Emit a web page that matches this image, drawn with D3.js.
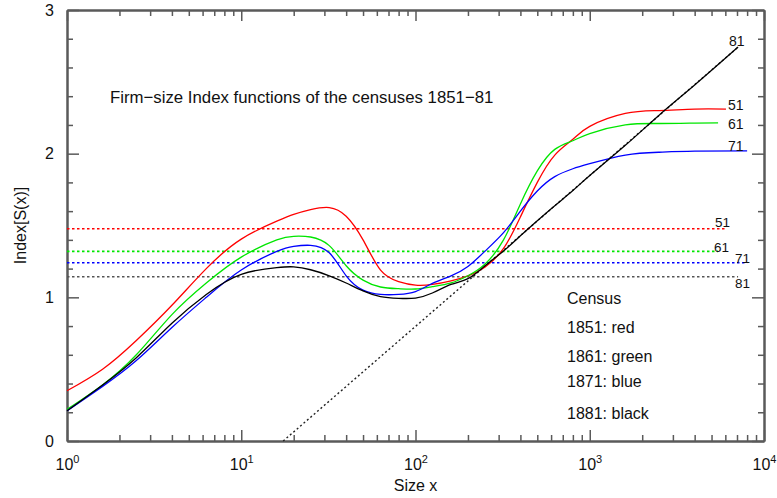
<!DOCTYPE html>
<html>
<head>
<meta charset="utf-8">
<script src="https://cdn.jsdelivr.net/npm/d3@7"></script>
<style>
  html, body { margin: 0; padding: 0; background: #fff; }
  svg { display: block; font-family: "Liberation Sans", Arial, sans-serif; }
</style>
</head>
<body>
<svg id="chart" width="777" height="498"></svg>
<script>
// Firm sizes (log-spaced sample points) shared by the census curves
const sizes = [1, 1.6, 2.5, 4, 6.3, 10, 16, 20, 25, 32, 40, 50, 63, 80, 100, 125, 160, 200, 250, 320, 400, 500, 630, 800, 1000, 1600, 2500, 4000];

// Index[S(x)] per census at the sizes above, plus each curve's last size/value
const idx1851 = [0.35, 0.50, 0.70, 0.945, 1.20, 1.405, 1.53, 1.577, 1.61, 1.625, 1.565, 1.40, 1.19, 1.11, 1.085, 1.09, 1.115, 1.15, 1.21, 1.34, 1.56, 1.80, 1.99, 2.10, 2.19, 2.28, 2.30, 2.31];
const idx1861 = [0.22, 0.39, 0.60, 0.88, 1.10, 1.28, 1.40, 1.425, 1.42, 1.36, 1.22, 1.12, 1.072, 1.06, 1.058, 1.074, 1.10, 1.15, 1.23, 1.40, 1.65, 1.88, 2.03, 2.09, 2.14, 2.20, 2.21, 2.213];
const idx1871 = [0.21, 0.38, 0.56, 0.79, 1.00, 1.19, 1.32, 1.355, 1.362, 1.31, 1.15, 1.05, 1.02, 1.02, 1.04, 1.097, 1.15, 1.215, 1.32, 1.45, 1.60, 1.74, 1.84, 1.895, 1.93, 1.99, 2.01, 2.017];
const idx1881 = [0.21, 0.39, 0.58, 0.82, 1.02, 1.16, 1.207, 1.212, 1.192, 1.15, 1.10, 1.045, 1.005, 0.993, 0.995, 1.03, 1.09, 1.13, 1.218, 1.323, 1.428, 1.533, 1.638, 1.743, 1.848, 2.058, 2.268, 2.478];
const endSizes  = [6050, 5450, 8000, 7100];
const endValues = [2.31, 2.215, 2.02, 2.742];

// Mean index level of each census (horizontal reference lines)
const meanLevels = [1.477, 1.32, 1.241, 1.143];

// Straight asymptote of the 1881 function
const asymSizes  = [17.4, 7100];
const asymValues = [0, 2.742];

const censusLabels = ["51", "61", "71", "81"];
const censusColors = ["#ff0000", "#00e600", "#0000ff", "#000000"];
const levelColors  = ["#ff0000", "#00e600", "#0000ff", "#555555"];
const legendLines  = ["Census", "1851: red", "1861: green", "1871: blue", "1881: black"];

const xMajorTicks = [1, 10, 100, 1000, 10000];
const yMajorTicks = [0, 1, 2, 3];

const svg = d3.select("#chart");
const plotLeft = 67, plotRight = 764, plotTop = 10, plotBottom = 441;

const x = d3.scaleLog().domain([1, 1e4]).range([plotLeft, plotRight]);
const y = d3.scaleLinear().domain([0, 3]).range([plotBottom, plotTop]);

const xMinor = [];
for (let d = 1; d < 1e4; d *= 10) for (let k = 2; k <= 9; k++) xMinor.push(d * k);
const yMinor = d3.range(0, 3.0001, 0.2).map(v => +v.toFixed(1)).filter(v => !yMajorTicks.includes(v));

const axisColor = "#5a5a5a";

function styleAxis(g) {
  g.attr("font-family", null).attr("font-size", null);
  g.selectAll("path.domain").attr("stroke", axisColor).attr("stroke-width", 2);
  g.selectAll(".tick line").attr("stroke", axisColor).attr("stroke-width", 1.5);
}

// Bottom axis
const gb = svg.append("g").attr("transform", `translate(0,${plotBottom})`);
gb.call(d3.axisBottom(x).tickValues(xMinor).tickSizeInner(-6).tickSizeOuter(0).tickFormat(""));
gb.call(styleAxis);
const gb2 = svg.append("g").attr("transform", `translate(0,${plotBottom})`);
gb2.call(d3.axisBottom(x).tickValues(xMajorTicks).tickSizeInner(-11).tickSizeOuter(0).tickFormat(() => ""));
gb2.call(styleAxis);
gb2.selectAll(".tick text").remove();
gb2.selectAll(".tick").each(function(d) {
  const t = d3.select(this).append("text")
    .attr("y", 29).attr("text-anchor", "middle")
    .attr("fill", "#111").attr("font-size", 16);
  t.append("tspan").text("10");
  t.append("tspan").attr("dy", -7).attr("font-size", 11).text(Math.round(Math.log10(d)));
});

// Top axis
const gt = svg.append("g").attr("transform", `translate(0,${plotTop})`);
gt.call(d3.axisTop(x).tickValues(xMinor).tickSizeInner(-6).tickSizeOuter(0).tickFormat(""));
gt.call(styleAxis);
const gt2 = svg.append("g").attr("transform", `translate(0,${plotTop})`);
gt2.call(d3.axisTop(x).tickValues(xMajorTicks).tickSizeInner(-11).tickSizeOuter(0).tickFormat(""));
gt2.call(styleAxis);

// Left axis
const gl = svg.append("g").attr("transform", `translate(${plotLeft},0)`);
gl.call(d3.axisLeft(y).tickValues(yMinor).tickSizeInner(-6).tickSizeOuter(0).tickFormat(""));
gl.call(styleAxis);
const gl2 = svg.append("g").attr("transform", `translate(${plotLeft},0)`);
gl2.call(d3.axisLeft(y).tickValues(yMajorTicks).tickSizeInner(-12).tickSizeOuter(0).tickPadding(13).tickFormat(d3.format("d")));
gl2.call(styleAxis);
gl2.selectAll(".tick text").attr("font-size", 16).attr("fill", "#111");

// Right axis
const gr = svg.append("g").attr("transform", `translate(${plotRight},0)`);
gr.call(d3.axisRight(y).tickValues(yMinor).tickSizeInner(-6).tickSizeOuter(0).tickFormat(""));
gr.call(styleAxis);
const gr2 = svg.append("g").attr("transform", `translate(${plotRight},0)`);
gr2.call(d3.axisRight(y).tickValues(yMajorTicks).tickSizeInner(-12).tickSizeOuter(0).tickFormat(""));
gr2.call(styleAxis);

// Axis titles
svg.append("text").attr("x", (plotLeft + plotRight) / 2).attr("y", 491)
  .attr("text-anchor", "middle").attr("font-size", 16).attr("fill", "#111").text("Size x");
svg.append("text").attr("transform", `translate(26,${(plotTop + plotBottom) / 2}) rotate(-90)`)
  .attr("text-anchor", "middle").attr("font-size", 16).attr("fill", "#111").text("Index[S(x)]");

// Chart title
svg.append("text").attr("x", 110).attr("y", 103)
  .attr("font-size", 16.8).attr("fill", "#111")
  .text("Firm\u2212size Index functions of the censuses 1851\u221281");

// Mean level lines (dotted)
meanLevels.forEach((v, i) => {
  svg.append("line")
    .attr("x1", x(1)).attr("x2", x(endSizes[i]))
    .attr("y1", y(v)).attr("y2", y(v))
    .attr("stroke", levelColors[i]).attr("stroke-width", 1.6)
    .attr("stroke-dasharray", "2.5,2.5");
});
const levelLabelPos = [[715, 227], [714, 252], [735, 263], [735, 288]];
censusLabels.forEach((s, i) => {
  svg.append("text").attr("x", levelLabelPos[i][0]).attr("y", levelLabelPos[i][1])
    .attr("font-size", 13.5).attr("fill", "#111").text(s);
});

// Dotted asymptote of 1881
const line = d3.line().x(d => x(d[0])).y(d => y(d[1]));
svg.append("path")
  .attr("d", line(d3.zip(asymSizes, asymValues)))
  .attr("fill", "none").attr("stroke", "#222").attr("stroke-width", 1.4)
  .attr("stroke-dasharray", "2,2.5");

// Census index functions
const curve = d3.line().x(d => x(d[0])).y(d => y(d[1])).curve(d3.curveNatural);
const series = [idx1851, idx1861, idx1871, idx1881];
series.forEach((vals, i) => {
  const pts = d3.zip(sizes, vals);
  pts.push([endSizes[i], endValues[i]]);
  svg.append("path")
    .attr("d", curve(pts))
    .attr("fill", "none").attr("stroke", censusColors[i]).attr("stroke-width", 1.3);
});
const curveLabelPos = [[728, 110], [728, 129], [728, 151], [729, 46]];
censusLabels.forEach((s, i) => {
  svg.append("text").attr("x", curveLabelPos[i][0]).attr("y", curveLabelPos[i][1])
    .attr("font-size", 14).attr("fill", "#111").text(s);
});

// Legend
const legendY = [304, 333, 362, 387, 419];
legendLines.forEach((s, i) => {
  svg.append("text").attr("x", 567).attr("y", legendY[i])
    .attr("font-size", 16).attr("fill", "#111").text(s);
});
</script>
</body>
</html>
